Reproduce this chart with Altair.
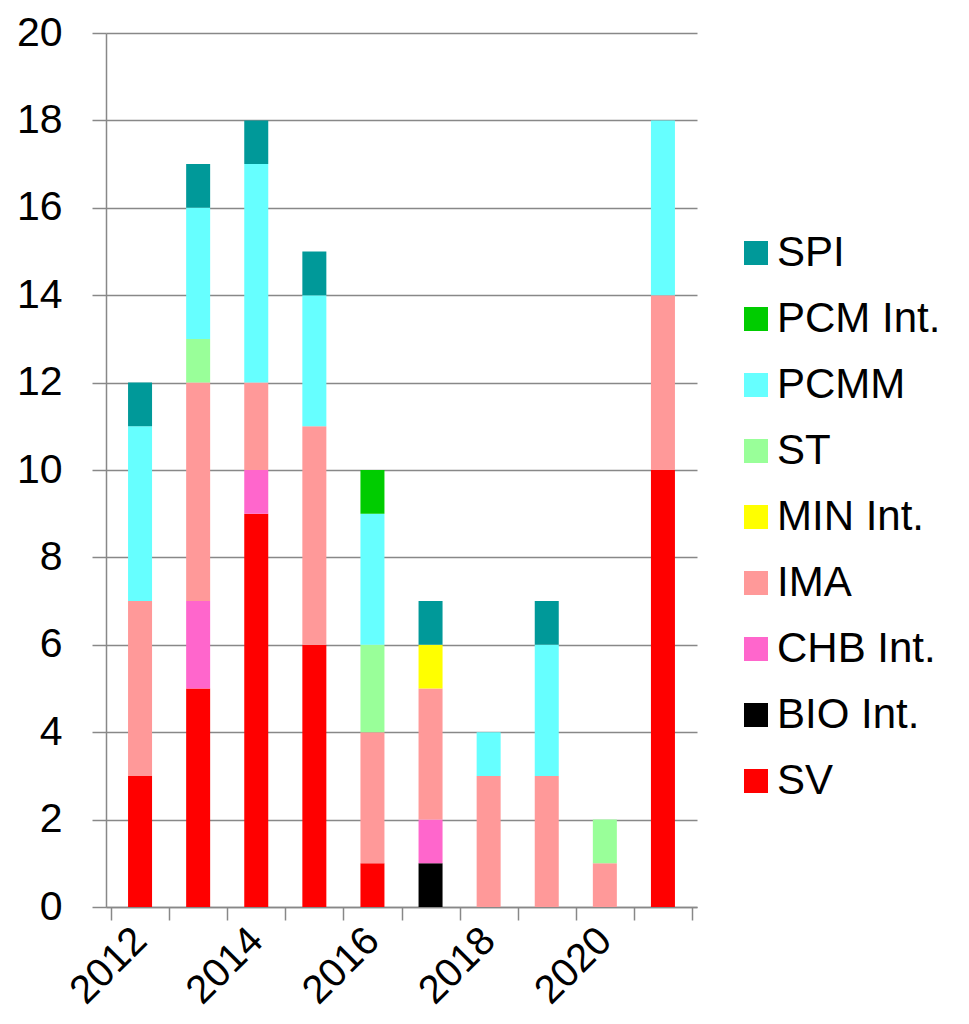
import altair as alt
import pandas as pd

years = [2012, 2013, 2014, 2015, 2016, 2017, 2018, 2019, 2020, 2021]
series_order = ["SV", "BIO Int.", "CHB Int.", "IMA", "MIN Int.", "ST", "PCMM", "PCM Int.", "SPI"]
legend_order = ["SPI", "PCM Int.", "PCMM", "ST", "MIN Int.", "IMA", "CHB Int.", "BIO Int.", "SV"]
legend_colors = ["#009999", "#00CC00", "#66FFFF", "#99FF99", "#FFFF00", "#FF9999", "#FF66CC", "#000000", "#FF0000"]

SV = [3, 5, 9, 6, 1, 0, 0, 0, 0, 10]
BIO = [0, 0, 0, 0, 0, 1, 0, 0, 0, 0]
CHB = [0, 2, 1, 0, 0, 1, 0, 0, 0, 0]
IMA = [4, 5, 2, 5, 3, 3, 3, 3, 1, 4]
MIN = [0, 0, 0, 0, 0, 1, 0, 0, 0, 0]
ST = [0, 1, 0, 0, 2, 0, 0, 0, 1, 0]
PCMM = [4, 3, 5, 3, 3, 0, 1, 3, 0, 4]
PCM = [0, 0, 0, 0, 1, 0, 0, 0, 0, 0]
SPI = [1, 1, 1, 1, 0, 1, 0, 1, 0, 0]

values = {"SV": SV, "BIO Int.": BIO, "CHB Int.": CHB, "IMA": IMA, "MIN Int.": MIN,
          "ST": ST, "PCMM": PCMM, "PCM Int.": PCM, "SPI": SPI}

rows = []
for k, name in enumerate(series_order):
    for y, v in zip(years, values[name]):
        if v > 0:
            rows.append({"year": y, "series": name, "value": v, "ord": k})
df = pd.DataFrame(rows)

tick_vals = [2011.5 + i for i in range(11)]
font = "Liberation Sans"

chart = alt.Chart(df).mark_bar(size=24).encode(
    x=alt.X("year:Q",
            scale=alt.Scale(domain=[2011.5, 2021.5], nice=False, zero=False),
            axis=alt.Axis(values=tick_vals, title=None, grid=False,
                          labelExpr="((datum.value - 2011.5) % 2 == 0 && datum.value < 2021) ? toString(datum.value + 0.5) : ''",
                          labelOffset=29, labelAngle=-45, labelAlign="right", labelBaseline="middle",
                          labelPadding=14, labelOverlap=False, labelFlush=False,
                          tickSize=13, tickColor="#888888", tickWidth=1.5,
                          domainColor="#888888", domainWidth=1.5,
                          labelFontSize=40, labelFont=font, labelColor="#000000")),
    y=alt.Y("value:Q", stack="zero",
            scale=alt.Scale(domain=[0, 20], nice=False),
            axis=alt.Axis(values=list(range(0, 21, 2)), title=None, grid=True,
                          gridColor="#888888", gridWidth=1.5,
                          tickSize=14, tickColor="#888888", tickWidth=1.5,
                          domainColor="#888888", domainWidth=1.5,
                          labelPadding=30, labelFontSize=41, labelFont=font, labelColor="#000000")),
    color=alt.Color("series:N",
                    scale=alt.Scale(domain=legend_order, range=legend_colors),
                    legend=alt.Legend(title=None, orient="none", legendX=629, legendY=199,
                                      symbolType="square", symbolSize=576, symbolStrokeWidth=0,
                                      symbolOpacity=1, labelFontSize=42, labelFont=font,
                                      labelColor="#000000", labelOffset=0, rowPadding=24,
                                      labelLimit=400, padding=0)),
    order=alt.Order("ord:Q", sort="ascending"),
).properties(
    width=591, height=874,
    autosize=alt.AutoSizeParams(type="none"),
    padding={"left": 98, "top": 25, "right": 255, "bottom": 108},
).configure_view(stroke=None)

chart.save("out.html", embed_options={"renderer": "svg", "actions": False})
